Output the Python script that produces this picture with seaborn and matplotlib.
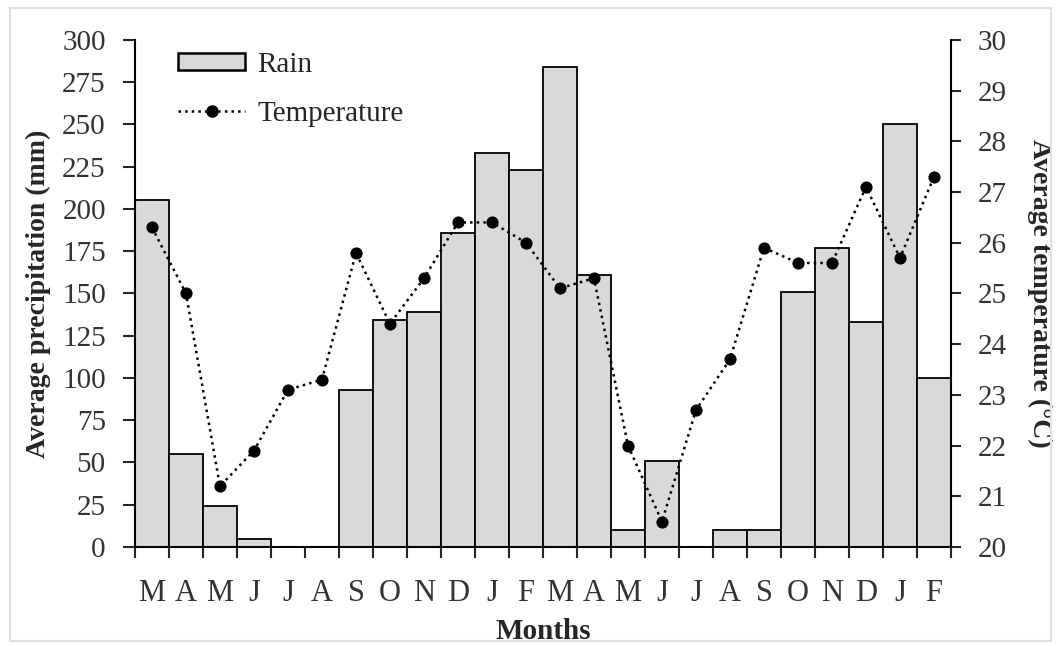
import numpy as np
import pandas as pd
import seaborn as sns
import matplotlib.pyplot as plt
from matplotlib.patches import Patch, Rectangle
from matplotlib.lines import Line2D

# dati
months = ['M', 'A', 'M', 'J', 'J', 'A', 'S', 'O', 'N', 'D', 'J', 'F',
          'M', 'A', 'M', 'J', 'J', 'A', 'S', 'O', 'N', 'D', 'J', 'F']
rain = [205, 55, 24, 5, 0, 0, 93, 134, 139, 186, 233, 223,
        284, 161, 10, 51, 0, 10, 10, 151, 177, 133, 250, 100]
temperature = [26.3, 25.0, 21.2, 21.9, 23.1, 23.3, 25.8, 24.4, 25.3, 26.4, 26.4, 26.0,
               25.1, 25.3, 22.0, 20.5, 22.7, 23.7, 25.9, 25.6, 25.6, 27.1, 25.7, 27.3]

df = pd.DataFrame({'idx': np.arange(len(months)), 'rain': rain, 'temp': temperature})

sns.set_style('ticks')
plt.rcParams['font.family'] = ['Liberation Serif', 'DejaVu Serif']

fig = plt.figure(figsize=(10.57, 6.46), dpi=100)
ax = fig.add_axes([0.1277, 0.1533, 0.772, 0.785])

sns.barplot(data=df, x='idx', y='rain', color='#d9d9d9', saturation=1,
            width=1.0, edgecolor='black', linewidth=1.3, ax=ax)

ax2 = ax.twinx()
sns.lineplot(data=df, x='idx', y='temp', color='black', linestyle=':', linewidth=1.8,
             marker='o', markersize=8, markeredgecolor='black', ax=ax2)

ax.set_xlim(-0.5, len(months) - 0.5)
ax.set_ylim(0, 300)
ax.set_yticks(np.arange(0, 301, 25))
ax2.set_ylim(20, 30)
ax2.set_yticks(np.arange(20, 31, 1))

# etichette al centro delle barre, tacche ai bordi
ax.set_xticks(np.arange(len(months)))
ax.set_xticklabels(months)
ax.set_xticks(np.arange(-0.5, len(months)), minor=True)
ax.tick_params(axis='x', which='major', length=0, pad=23, labelsize=22, labelcolor='#333333')
ax.tick_params(axis='x', which='minor', length=8, width=1.5, direction='out')
ax.tick_params(axis='y', length=9, width=1.5, pad=12, labelsize=21, labelcolor='#333333')
ax2.tick_params(axis='y', length=7, width=1.5, pad=12, labelsize=21, labelcolor='#333333')

for a in (ax, ax2):
    a.spines['top'].set_visible(False)
    for s in ('left', 'bottom', 'right'):
        a.spines[s].set_linewidth(1.5)
        a.spines[s].set_color('black')
ax.spines['right'].set_visible(False)
ax2.spines['left'].set_visible(False)
ax2.spines['bottom'].set_visible(False)

ax.set_xlabel('Months', fontsize=21, fontweight='bold', labelpad=7)
ax.set_ylabel('Average precipitation (mm)', fontsize=20, fontweight='bold', labelpad=8)
ax2.set_ylabel('Average temperature (°C)', fontsize=20, fontweight='bold',
               rotation=270, labelpad=33)

handles = [Patch(facecolor='#d9d9d9', edgecolor='black', linewidth=1.8),
           Line2D([], [], color='black', linestyle=':', linewidth=1.8, marker='o', markersize=8)]
ax2.legend(handles, ['Rain', 'Temperature'], loc='upper left', bbox_to_anchor=(0.021, 1.028),
           frameon=False, fontsize=21, handlelength=2.3, handleheight=0.5,
           handletextpad=0.4, labelspacing=0.78)

# cornice grigia attorno alla figura
fig.patches.append(Rectangle((0.009, 0.008), 0.985, 0.98, transform=fig.transFigure,
                             fill=False, edgecolor='#e0e0e0', linewidth=1.5))

fig.savefig('out.png', dpi=100)
